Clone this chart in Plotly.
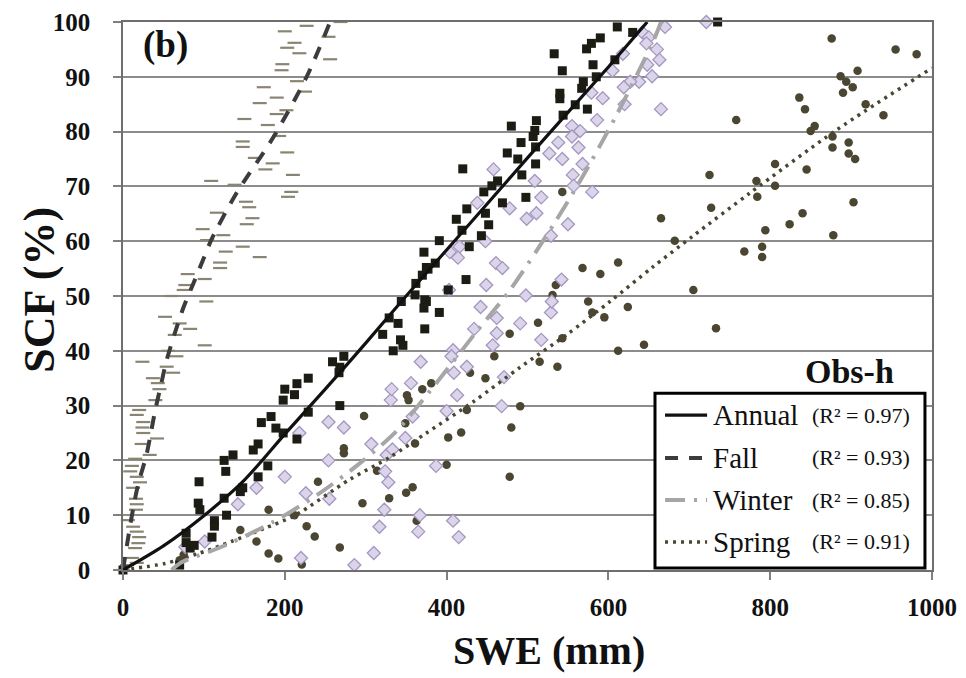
import plotly.graph_objects as go

# ---------------- data ----------------
annual_swe = [0, 70, 83, 88, 78, 78, 110, 113, 113, 128, 93, 95, 125, 94, 145, 148, 125, 127, 136, 167,
              179, 161, 167, 171, 183, 189, 198, 215, 198, 200, 212, 215, 229, 229, 268, 259, 273, 268, 267,
              321, 329, 334, 340, 343, 346, 344, 361, 362, 370, 372, 375, 386, 373, 375, 372, 391, 373, 377,
              391, 402, 412, 419, 420, 424, 425, 428, 443, 446, 448, 452, 456, 463, 469, 475, 480, 488, 492,
              493, 498, 507, 509, 510, 510, 511, 533, 540, 540, 543, 544, 559, 567, 569, 573, 574, 579, 581,
              585, 590, 608, 611, 630, 735]
annual_scf = [0, 0.9, 4, 4.5, 6.7, 5, 6, 9, 8, 10, 12.2, 11, 13.1, 16.1, 14.3, 15, 20, 18, 21, 17,
              19, 21.9, 23, 26.9, 28, 25.9, 25, 23.9, 31, 33, 32, 34, 35, 28.8, 30, 38, 39, 37, 36,
              43, 46, 40, 45, 42, 41, 49, 50.2, 52.3, 53.8, 58, 55.2, 56, 49.3, 49, 47.8, 47, 44, 54.9,
              60.1, 51.1, 64, 62, 73.2, 53, 65.9, 59, 61, 69, 65.1, 63, 70.1, 71, 67, 76.1, 81, 75, 78,
              72.1, 68, 79.1, 80.2, 77.2, 74.1, 82, 94.2, 87, 86, 91.1, 83, 84.9, 87.9, 89.1, 95.1, 84.1, 96.1, 92.2,
              90, 97.1, 93.1, 99.1, 98.1, 100]

fall_swe = [200, 227, 269, 254, 212, 203, 218, 256, 197, 196, 215, 225, 174, 190, 169, 190, 202, 150, 179, 193,
            148, 148, 163, 203, 185, 176, 210, 109, 138, 208, 204, 152, 156, 116, 160, 153, 98.5, 104, 124, 148,
            127, 169, 120, 120, 80, 101, 77, 75, 60,
            103, 52, 70, 83, 64, 101, 56, 66, 24, 54, 62, 37, 43, 45, 40, 20, 17, 25, 24, 25, 42, 23, 33, 15,
            11, 9, 17, 21, 12.5, 16, 17, 16, 6, 12.5, 17, 20, 19, 15, 11, 17, 5, 0]
fall_scf = [98.3, 99.3, 100, 97.3, 96.2, 95.3, 94.3, 93.2, 92.3, 91.2, 89.2, 87.3, 88.1, 86.2, 85.2, 83.2, 83.9, 82.3, 81.2, 79.2,
            78.2, 77.2, 75.2, 76.2, 74.2, 73.1, 72.1, 71, 70.3, 69, 68.1, 67.2, 66.2, 65.2, 64.2, 63.1, 62.2, 60.2, 61.1, 59,
            58.1, 57.1, 56.1, 55.1, 54, 53.1, 52, 51.1, 50,
            49, 46.2, 45, 44, 42.9, 41, 40, 39, 38, 37.1, 36, 35, 34.1, 33, 31, 29.2, 28.3, 27, 26, 25, 24, 23, 21, 20.3,
            19, 18, 17, 16, 15, 13, 12, 11, 9.1, 7.9, 7, 6, 4.9, 4, 2.2, 1.3, 0.9, 0]

winter_swe = [77, 101, 142, 165, 200, 226, 255, 254, 218, 254, 273, 220, 286, 310, 317, 323, 328, 324, 326, 333,
              307, 331, 332,
              442, 462, 491, 529, 530, 434, 462, 457, 517, 408, 406, 368, 409, 425, 471, 356, 413, 400, 468, 358,
              349, 387, 367, 408, 365, 415,
              670, 642, 650, 647, 660, 618, 663, 648, 605, 654, 638, 627, 619, 579, 593, 620, 665, 586, 555, 565,
              555, 538, 563, 527, 543, 568, 458, 556, 509, 557, 580, 438, 517, 478, 511, 499, 550, 529, 448, 416,
              404, 461, 469, 542, 449, 403, 498, 721, 414]
winter_scf = [4.2, 5.2, 12, 15, 17, 14, 13, 20, 25, 27, 26, 2.2, 0.9, 3.1, 7.9, 11, 16, 18, 21, 22,
              23, 31, 33,
              48, 46, 45, 47, 49, 44, 43.2, 41, 42, 40.1, 39, 38, 36, 37.1, 35.2, 34.1, 31.9, 29, 29.9, 28,
              24.1, 19, 10, 9, 7, 6,
              99.1, 98.1, 97.2, 96.1, 95, 94.2, 93.1, 92.2, 91.1, 90.1, 89.1, 89.1, 88.1, 87.1, 86.1, 85, 84.1, 82.1, 81, 80.1,
              79.1, 78, 77.1, 76, 75, 74.1, 73.1, 72.1, 71, 70.1, 69, 67, 68, 66, 65.1, 64.1, 63.1, 61, 60, 59,
              58, 56, 55.1, 53, 52, 51.1, 50.1, 100, 57]

spring_swe = [0, 70, 75, 145, 165, 180, 192, 221, 180, 212, 227, 237, 268, 241, 296, 298, 273, 273, 314, 329,
              351, 353, 370, 381, 349, 361, 402, 418, 400, 350, 358, 363, 425, 429, 448, 459, 478, 513, 491, 480,
              478, 515, 537, 543, 575, 580, 595, 624, 612, 644,
              543, 665, 682, 612, 568, 590, 543, 535, 531, 705,
              876, 955, 981, 908, 887, 894, 902, 890, 836, 843, 918, 940, 758, 855, 850, 877, 897, 877, 897, 905,
              806, 845, 725, 783, 806, 784, 903, 727, 840, 794, 824, 878, 768, 790, 790, 733]
spring_scf = [0, 1.8, 2.8, 7.3, 5.2, 3, 2.1, 1, 11, 10, 8, 6.1, 4.1, 16.1, 12.2, 28.1, 22.2, 21.3, 18.1, 13.1,
              31.9, 31, 33, 34.1, 26.8, 23.1, 24.2, 25.1, 19.2, 14.1, 15.1, 9, 29.2, 36, 35, 39, 43.1, 45.1, 29.9, 26,
              17, 38, 37.1, 42.3, 49, 47, 46.1, 48, 40, 41.1,
              69, 64.2, 60.1, 56.1, 55.1, 54, 53, 52, 50.2, 51.1,
              97, 95, 94.1, 91.1, 90.1, 89.1, 88.1, 87.1, 86.2, 84.1, 85, 83, 82.1, 81, 80.1, 79.1, 78, 77.1, 76, 75,
              74.1, 73.1, 72.1, 71, 70.1, 68.1, 67.1, 66.1, 65.1, 62, 63.1, 61.1, 58.1, 59, 57.1, 44.1]

# fitted trend lines
annual_fit_swe = [0, 50, 100, 150, 200, 250, 300, 350, 400, 450, 500, 550, 600, 648]
annual_fit_scf = [0, 4.4, 9.9, 16.4, 24.8, 33, 41.4, 50, 58.4, 66.8, 75.2, 83.5, 91.8, 100]
fall_fit_swe = [0, 6.6, 13, 19, 29, 39.5, 46, 54, 64, 74.5, 87, 99, 110, 140, 186, 227, 256]
fall_fit_scf = [0, 6.1, 11.6, 15.8, 21, 28.9, 33.2, 38.3, 43.2, 47.8, 52.3, 56.6, 60.5, 68.7, 79, 90, 100]
winter_fit_swe = [60, 70, 128, 186, 240, 293, 339, 392, 437, 478, 532, 565, 610, 656, 665]
winter_fit_scf = [0, 1.2, 4.6, 8.8, 13.7, 19.5, 25.5, 35, 43.5, 51, 63, 71, 83, 96.7, 100]
spring_fit_swe = [0, 52, 93, 134, 175, 213, 280, 330, 375, 433, 491, 549, 602, 655, 705, 775, 882, 1000]
spring_fit_scf = [0, 1.2, 3, 5.2, 7.6, 10, 16.5, 20.6, 25, 30.7, 37, 43, 49, 55.3, 61, 68.8, 80.3, 91.6]

season_names = ["Annual", "Fall", "Winter", "Spring"]
r2_labels = ["(R² = 0.97)", "(R² = 0.93)", "(R² = 0.85)", "(R² = 0.91)"]
x_ticks = [0, 200, 400, 600, 800, 1000]
y_ticks = list(range(0, 101, 10))

FONT = "Liberation Serif"

line_styles = {
    "Annual": dict(color="#111111", width=3.2, dash="solid"),
    "Fall": dict(color="#3c3c3c", width=4, dash="13px,11px"),
    "Winter": dict(color="#a6a6a6", width=4, dash="20px,9px,3px,9px"),
    "Spring": dict(color="#4b4631", width=3.5, dash="3px,5px"),
}

fig = go.Figure()

# scatter points
fig.add_trace(go.Scatter(x=fall_swe, y=fall_scf, mode="markers", cliponaxis=False, showlegend=False,
                         marker=dict(symbol="line-ew", size=10, line=dict(color="#8a8572", width=2.2))))
fig.add_trace(go.Scatter(x=spring_swe, y=spring_scf, mode="markers", cliponaxis=False, showlegend=False,
                         marker=dict(symbol="circle", size=8.5, color="#4b4631", line=dict(width=0))))
fig.add_trace(go.Scatter(x=winter_swe, y=winter_scf, mode="markers", cliponaxis=False, showlegend=False,
                         marker=dict(symbol="diamond", size=10, color="#dcd5ea", line=dict(color="#a397c2", width=1.3))))
fig.add_trace(go.Scatter(x=annual_swe, y=annual_scf, mode="markers", cliponaxis=False, showlegend=False,
                         marker=dict(symbol="square", size=9, color="#1c1c14", line=dict(width=0))))

# trend lines
for name, xs, ys in [("Spring", spring_fit_swe, spring_fit_scf),
                     ("Winter", winter_fit_swe, winter_fit_scf),
                     ("Fall", fall_fit_swe, fall_fit_scf),
                     ("Annual", annual_fit_swe, annual_fit_scf)]:
    fig.add_trace(go.Scatter(x=xs, y=ys, mode="lines", line=dict(shape="spline", smoothing=0.8, **line_styles[name]),
                             showlegend=False, hoverinfo="skip"))

# ---------------- manual legend ----------------
shapes = []
annotations = []
box = dict(x0=0.6576, x1=0.9913, y0=0.0036, y1=0.3225)
shapes.append(dict(type="rect", xref="paper", yref="paper", layer="above",
                   fillcolor="white", line=dict(color="black", width=3), **box))
row_y = [0.2828, 0.2044, 0.1277, 0.0511]
for name, r2, yy in zip(season_names, r2_labels, row_y):
    st = line_styles[name]
    shapes.append(dict(type="line", xref="paper", yref="paper", layer="above",
                       x0=0.670, x1=0.722, y0=yy, y1=yy,
                       line=dict(color=st["color"], width=st["width"], dash=st["dash"])))
    annotations.append(dict(xref="paper", yref="paper", x=0.727, y=yy, text=name, showarrow=False,
                            xanchor="left", yanchor="middle", font=dict(family=FONT, size=29, color="#111111")))
    annotations.append(dict(xref="paper", yref="paper", x=0.849, y=yy, text=r2, showarrow=False,
                            xanchor="left", yanchor="middle", font=dict(family=FONT, size=22, color="#111111")))

annotations.append(dict(xref="paper", yref="paper", x=0.955, y=0.362, text="<b>Obs-h</b>", showarrow=False,
                        xanchor="right", yanchor="middle", font=dict(family=FONT, size=34, color="#111111")))
annotations.append(dict(xref="paper", yref="paper", x=0.022, y=0.958, text="<b>(b)</b>", showarrow=False,
                        xanchor="left", yanchor="middle", font=dict(family=FONT, size=37, color="#111111")))
# axis titles
annotations.append(dict(xref="paper", yref="paper", x=-0.103, y=0.511, text="<b>SCF (%)</b>", showarrow=False,
                        textangle=-90, xanchor="center", yanchor="middle", font=dict(family=FONT, size=44, color="#111111")))
annotations.append(dict(xref="paper", yref="paper", x=0.527, y=-0.147, text="<b>SWE (mm)</b>", showarrow=False,
                        xanchor="center", yanchor="middle", font=dict(family=FONT, size=40, color="#111111")))

# page has an 8px body margin, so the figure is 958x670 and offset by 8px
fig.update_layout(
    width=958, height=670,
    margin=dict(l=115, r=34, t=14, b=108, autoexpand=False),
    paper_bgcolor="white", plot_bgcolor="white",
    font=dict(family=FONT, color="#111111"),
    shapes=shapes, annotations=annotations,
    xaxis=dict(range=[0, 1000], tickvals=x_ticks, ticktext=["<b>%d</b>" % v for v in x_ticks], automargin=False,
               ticks="outside", ticklen=8, tickwidth=1.5, tickcolor="#808080",
               showgrid=False, zeroline=False, showline=True, linecolor="#6e6e6e", linewidth=1.5, mirror=True,
               tickfont=dict(family=FONT, size=25, color="#111111"), ticklabelstandoff=6),
    yaxis=dict(range=[0, 100], tickvals=y_ticks, ticktext=["<b>%d</b>" % v for v in y_ticks], automargin=False,
               ticks="outside", ticklen=8, tickwidth=1.5, tickcolor="#808080",
               showgrid=True, gridcolor="#8c8c8c", gridwidth=1.5, zeroline=False,
               showline=True, linecolor="#6e6e6e", linewidth=1.5, mirror=True,
               tickfont=dict(family=FONT, size=25, color="#111111"), ticklabelstandoff=18),
)

fig.write_html("out.html")
